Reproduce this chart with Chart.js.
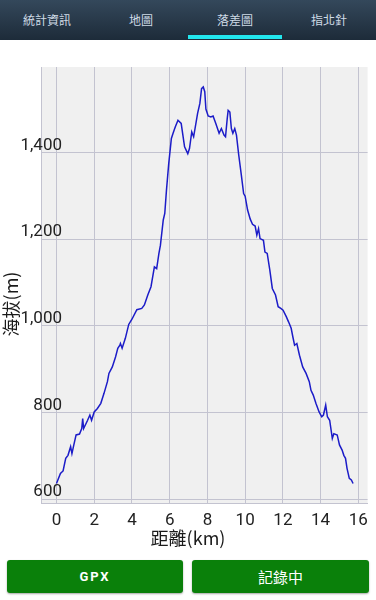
<!DOCTYPE html>
<html>
<head>
<meta charset="utf-8">
<script src="https://cdn.jsdelivr.net/npm/chart.js@4/dist/chart.umd.min.js"></script>
<style>
  html, body { margin: 0; padding: 0; background: #fff; }
  body { width: 376px; height: 600px; overflow: hidden; font-family: Roboto, "Noto Sans CJK TC", sans-serif; }
  .tabs { height: 40px; display: flex; background: linear-gradient(#34485b, #1d2b39); position: relative; }
  .tab { width: 94px; text-align: center; color: #cfdbe6; font-size: 12px; line-height: 40px; position: relative; font-family: "Noto Sans CJK TC", sans-serif; }
  .tab.active::after { content: ''; position: absolute; left: 0; right: 0; bottom: 1px; height: 4px; background: #22e6ee; }
  .chart-wrap { position: relative; width: 376px; height: 515px; }
  .buttons { position: relative; height: 45px; }
  .btn { position: absolute; top: 5px; height: 33px; background: #0a800a; color: #fff; border-radius: 3px;
         box-shadow: 0 1px 2px rgba(0,0,0,.35); text-align: center; line-height: 33px; }
  .btn.gpx { left: 7px; width: 176px; font-size: 13px; font-weight: bold; letter-spacing: 2px; font-family: Roboto, sans-serif; }
  .btn.rec { left: 192px; width: 177px; font-size: 15px; font-family: "Noto Sans CJK TC", sans-serif; }
</style>
</head>
<body>
<div class="tabs">
  <div class="tab">統計資訊</div>
  <div class="tab">地圖</div>
  <div class="tab active">落差圖</div>
  <div class="tab">指北針</div>
</div>
<div class="chart-wrap"><canvas id="profileChart" width="376" height="515"></canvas></div>
<div class="buttons">
  <div class="btn gpx">GPX</div>
  <div class="btn rec">記錄中</div>
</div>
<script>
/* ─────────────────────────────────────────────
   DATA  (distance km / elevation m)
───────────────────────────────────────────── */
const distKm = [
  0.00, 0.21, 0.35, 0.49, 0.61, 0.75, 0.82, 0.92, 1.04, 1.22, 1.34, 1.39, 1.44, 1.65, 1.77, 1.86,
  2.00, 2.17, 2.35, 2.52, 2.70, 2.78, 2.96, 3.13, 3.25, 3.36, 3.39, 3.48, 3.65, 3.83, 4.00, 4.26,
  4.52, 4.66, 4.84, 5.01, 5.19, 5.31, 5.43, 5.51, 5.66, 5.74, 5.83, 5.95, 6.09, 6.18, 6.30, 6.44,
  6.61, 6.70, 6.79, 6.96, 7.05, 7.17, 7.27, 7.48, 7.60, 7.69, 7.78, 7.86, 7.92, 8.04, 8.18, 8.30,
  8.44, 8.62, 8.74, 8.88, 8.96, 9.05, 9.10, 9.19, 9.27, 9.35, 9.45, 9.54, 9.66, 9.80, 9.92, 10.00,
  10.13, 10.27, 10.39, 10.53, 10.62, 10.71, 10.79, 10.97, 11.05, 11.17, 11.31, 11.44, 11.61, 11.75,
  11.89, 12.01, 12.18, 12.30, 12.44, 12.53, 12.62, 12.74, 12.88, 13.05, 13.23, 13.40, 13.49, 13.61,
  13.75, 13.92, 14.06, 14.15, 14.27, 14.36, 14.48, 14.62, 14.70, 14.88, 15.00, 15.14, 15.23, 15.32,
  15.40, 15.52, 15.63, 15.72
];
const elevM = [
  636, 659, 665, 694, 701, 721, 705, 725, 748, 750, 763, 786, 763, 782, 794, 782,
  801, 809, 821, 844, 871, 890, 905, 928, 948, 955, 959, 948, 971, 1003, 1015, 1037,
  1040, 1048, 1071, 1090, 1136, 1132, 1167, 1186, 1244, 1259, 1313, 1374, 1432, 1444, 1459, 1474,
  1467, 1440, 1413, 1397, 1409, 1447, 1436, 1490, 1513, 1547, 1551, 1540, 1500, 1484, 1482, 1484,
  1467, 1444, 1455, 1440, 1436, 1478, 1497, 1493, 1455, 1444, 1455, 1440, 1394, 1347, 1305, 1299,
  1267, 1246, 1234, 1230, 1209, 1224, 1201, 1197, 1170, 1167, 1128, 1086, 1071, 1044,
  1040, 1036, 1021, 1009, 994, 974, 955, 959, 932, 905, 890, 871, 851, 840,
  821, 801, 790, 794, 817, 790, 782, 740, 751, 748, 725, 713, 701, 694,
  671, 648, 644, 636
];
const xTicks = [0, 2, 4, 6, 8, 10, 12, 14, 16];
const yTicks = [600, 800, 1000, 1200, 1400];
const xTitle = '距離(km)';
const yTitle = '海拔(m)';

/* ─────────────────────────────────────────────
   HELPERS
───────────────────────────────────────────── */
const GRID = '#c3c3d0';
const FONT = { family: 'Roboto, sans-serif', size: 17 };
const fmtElev = (v) => v.toLocaleString('en-US');

const keepTicks = (list) => (scale) => {
  scale.ticks = list.map((v) => ({ value: v }));
};

// y labels sit over the plot edge, right side at x=62; mirror avoids the label clip
function widestYLabel() {
  const c = document.createElement('canvas').getContext('2d');
  c.font = `${FONT.size}px ${FONT.family}`;
  return Math.max(...yTicks.map((v) => c.measureText(fmtElev(v)).width));
}

// plot background + axis titles centred on the canvas, like the app draws them
const profileDecor = {
  id: 'profileDecor',
  beforeDraw(chart) {
    const { ctx, chartArea: a } = chart;
    ctx.save();
    ctx.fillStyle = '#f0f0f0';
    ctx.fillRect(a.left, a.top, a.right - a.left, a.bottom - a.top);
    ctx.restore();
  },
  afterDraw(chart) {
    const { ctx, width } = chart;
    ctx.save();
    ctx.fillStyle = '#1a1a1a';
    ctx.font = '18px "Noto Sans CJK TC", Roboto, sans-serif';
    ctx.textAlign = 'center';
    ctx.textBaseline = 'middle';
    ctx.fillText(xTitle, width / 2, 498);
    ctx.translate(11.5, 264);
    ctx.rotate(-Math.PI / 2);
    ctx.fillText(yTitle, 0, 0);
    ctx.restore();
  },
};

/* ─────────────────────────────────────────────
   CHART
───────────────────────────────────────────── */
new Chart(document.getElementById('profileChart'), {
  type: 'line',
  data: {
    datasets: [{
      data: distKm.map((d, i) => ({ x: d, y: elevM[i] })),
      borderColor: '#1c1cc8',
      borderWidth: 1.5,
      pointRadius: 0,
      tension: 0,
      fill: false,
    }],
  },
  options: {
    responsive: false,
    animation: false,
    layout: { padding: { top: 27, right: 3.5, left: 0, bottom: 0 } },
    plugins: { legend: { display: false }, tooltip: { enabled: false } },
    scales: {
      x: {
        type: 'linear',
        min: -0.82,
        max: 16.49,
        afterBuildTicks: keepTicks(xTicks),
        afterFit: (s) => { s.height = 52; },
        grid: { color: GRID, drawTicks: false },
        border: { color: GRID },
        ticks: { color: '#222', font: FONT, padding: 8, callback: (v) => v },
      },
      y: {
        min: 591,
        max: 1597,
        afterBuildTicks: keepTicks(yTicks),
        afterFit: (s) => { s.width = 41; },
        grid: { color: GRID, drawTicks: false },
        border: { color: GRID },
        ticks: {
          color: '#222', font: FONT, mirror: true, crossAlign: 'far',
          padding: 21 - widestYLabel(), labelOffset: -7,
          callback: fmtElev,
        },
      },
    },
  },
  plugins: [profileDecor],
});
</script>
</body>
</html>
